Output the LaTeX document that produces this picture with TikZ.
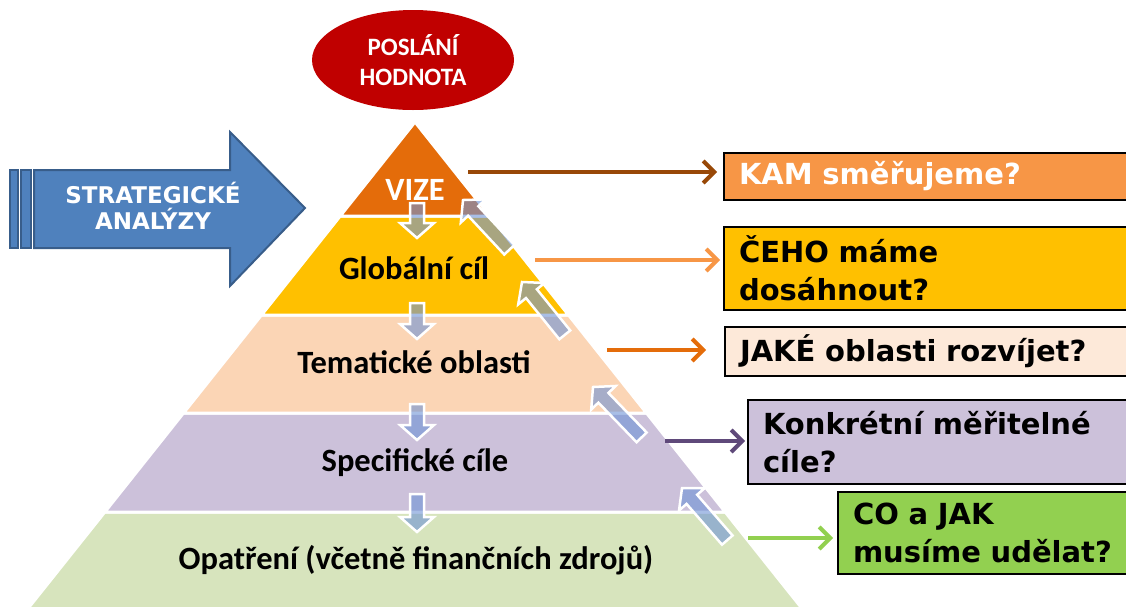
\documentclass[tikz,border=0pt]{standalone}
\usepackage{fontspec}
\newfontfamily\calfont{Carlito}
\newfontfamily\verfont{DejaVu Sans}
\usetikzlibrary{arrows.meta,shapes.geometric}
\definecolor{vizeor}{HTML}{E46C0A}
\definecolor{globy}{HTML}{FFC000}
\definecolor{tempeach}{HTML}{FBD5B5}
\definecolor{speclav}{HTML}{CCC1DA}
\definecolor{opgreen}{HTML}{D7E4BD}
\definecolor{kamor}{HTML}{F79646}
\definecolor{jakpeach}{HTML}{FDE9D9}
\definecolor{cogreen}{HTML}{92D050}
\definecolor{brownarr}{HTML}{984807}
\definecolor{purparr}{HTML}{5F497A}
\definecolor{saBlue}{HTML}{4F81BD}
\definecolor{saDark}{HTML}{385D8A}
\definecolor{darkred}{HTML}{C00000}
\definecolor{blkblue}{HTML}{6E93D6}
\newcommand\blkarrow[3]{%
  \begin{scope}[shift={#1},rotate=#2]
    \filldraw[blkarr] (0,0) -- (-15,17) -- (-15,7) -- (-#3,7) -- (-#3,-7) -- (-15,-7) -- (-15,-17) -- cycle;
  \end{scope}}
\begin{document}
\begin{tikzpicture}[x=1pt,y=-1pt,
  layer/.style={draw=white,line width=3pt,line join=miter},
  laytext/.style={font=\calfont\bfseries\fontsize{32.5}{38}\selectfont,text=black},
  blkarr/.style={fill=blkblue,fill opacity=0.6,draw=white,draw opacity=1,line width=2.5pt,line join=miter},
  harrow/.style={line width=4pt,-{Straight Barb[length=11pt,width=22pt,line width=4pt]}},
  qbox/.style={draw=black,line width=2pt,anchor=west,minimum width=440pt,text width=410pt,align=left,inner xsep=12pt,inner ysep=0pt,font=\verfont\bfseries\fontsize{29}{38}\selectfont,text=black}]
\clip (0,0) rectangle (1126,606);
\useasboundingbox (0,0) rectangle (1126,606);
% pyramid layers
\filldraw[layer,fill=opgreen] (104.8,512) -- (725.2,512) -- (811.2,620) -- (18.8,620) -- cycle;
\filldraw[layer,fill=speclav] (183.5,413) -- (646.5,413) -- (725.2,512) -- (104.8,512) -- cycle;
\filldraw[layer,fill=tempeach] (261.5,315) -- (568.5,315) -- (646.5,413) -- (183.5,413) -- cycle;
\filldraw[layer,fill=globy] (340.2,216) -- (489.8,216) -- (568.5,315) -- (261.5,315) -- cycle;
\filldraw[layer,fill=vizeor] (415,122) -- (489.8,216) -- (340.2,216) -- cycle;
% layer labels
\node[laytext,text=white] (vize) at (415,190) {VIZE};
\node[laytext] (glob) at (414,268) {Globální cíl};
\node[laytext] (tem) at (414,362) {Tematické oblasti};
\node[laytext] (spec) at (415,463) {Specifické cíle};
\node[laytext] (opat) at (416,560) {Opatření (včetně finančních zdrojů)};
% down arrows
\blkarrow{(417,238)}{-90}{35}
\blkarrow{(417,339)}{-90}{36}
\blkarrow{(417,440)}{-90}{36}
\blkarrow{(417,532)}{-90}{38}
% diagonal arrows
\blkarrow{(463,200)}{133}{68}
\blkarrow{(522,282)}{129}{68}
\blkarrow{(593,387)}{134}{70}
\blkarrow{(682,488)}{131}{69}
% ellipse
\node[ellipse,fill=darkred,minimum width=202pt,minimum height=100pt,inner sep=0pt,align=center,text=white,font=\calfont\bfseries\fontsize{25}{30}\selectfont] (posl) at (413,60) {POSLÁNÍ\\HODNOTA};
% strategic arrow
\filldraw[fill=saBlue,draw=saDark,line width=2pt] (10,170) rectangle (18,248);
\filldraw[fill=saBlue,draw=saDark,line width=2pt] (21,170) rectangle (31,248);
\filldraw[fill=saBlue,draw=saDark,line width=2pt,line join=miter] (34,170) -- (230,170) -- (230,132) -- (305,208) -- (230,286) -- (230,248) -- (34,248) -- cycle;
\node[text=white,align=center,font=\verfont\bfseries\fontsize{23}{26}\selectfont] (sa) at (153,206) {STRATEGICKÉ\\ANALÝZY};
% question boxes
\node[qbox,fill=kamor,text=white,minimum height=47pt] (b1) at (723,176.5) {KAM směřujeme?};
\node[qbox,fill=globy,minimum height=83pt] (b2) at (723,268.5) {ČEHO máme\\dosáhnout?};
\node[qbox,fill=jakpeach,minimum height=49pt] (b3) at (724,351.5) {JAKÉ oblasti rozvíjet?};
\node[qbox,fill=speclav,minimum height=84pt] (b4) at (747,442) {Konkrétní měřitelné\\cíle?};
\node[qbox,fill=cogreen,minimum height=82pt] (b5) at (837,533) {CO a JAK\\musíme udělat?};
% horizontal arrows
\coordinate (h1) at (468,172);
\coordinate (h2) at (535,260);
\coordinate (h3) at (607,350);
\coordinate (h4) at (665,441);
\coordinate (h5) at (748,538);
\draw[harrow,brownarr,shorten >=6pt] (h1) -- (h1 -| b1.west);
\draw[harrow,kamor,shorten >=3pt] (h2) -- (h2 -| b2.west);
\draw[harrow,vizeor,shorten >=18pt] (h3) -- (h3 -| b3.west);
\draw[harrow,purparr,shorten >=2pt] (h4) -- (h4 -| b4.west);
\draw[harrow,cogreen,shorten >=4pt] (h5) -- (h5 -| b5.west);
\end{tikzpicture}
\end{document}
